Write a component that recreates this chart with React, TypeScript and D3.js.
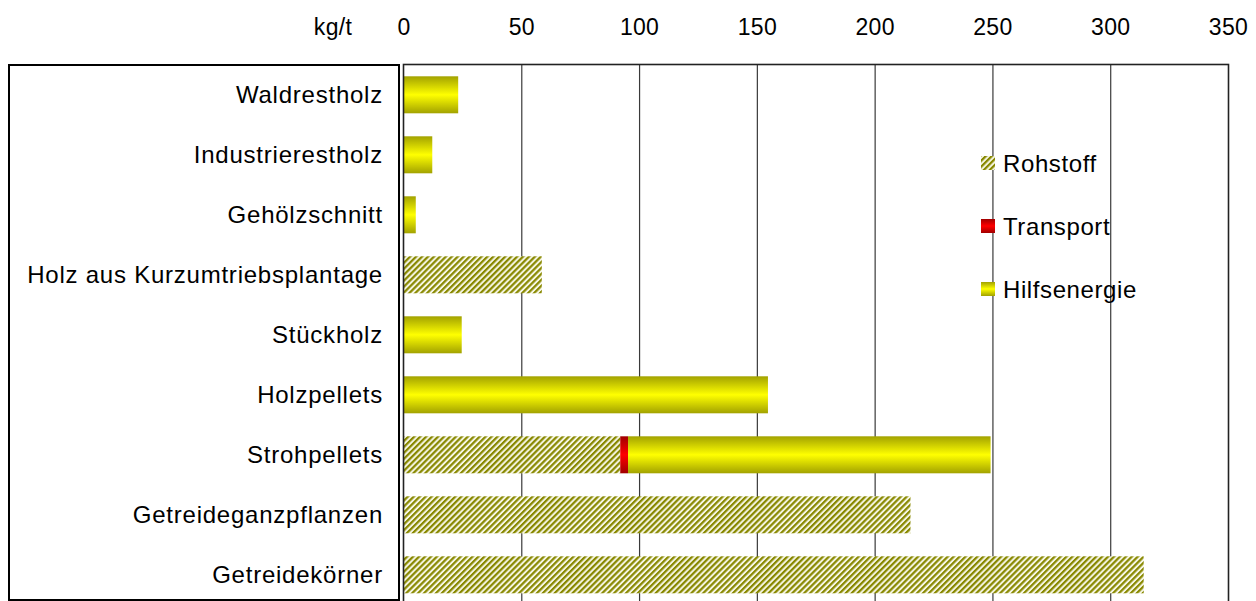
import React from "react";
import * as d3 from "d3";

// Categories listed top to bottom
const categories = [
  "Waldrestholz",
  "Industrierestholz",
  "Gehölzschnitt",
  "Holz aus Kurzumtriebsplantage",
  "Stückholz",
  "Holzpellets",
  "Strohpellets",
  "Getreideganzpflanzen",
  "Getreidekörner",
];

// Emission components in kg/t
const rohstoff = [0, 0, 0, 58.5, 0, 0, 91.8, 215, 314];
const transport = [0, 0, 0, 0, 0, 0, 3.3, 0, 0];
const hilfsenergie = [23, 12, 5, 0, 24.5, 154.5, 153.9, 0, 0];

const seriesNames = ["Rohstoff", "Transport", "Hilfsenergie"];
const tickValues = [0, 50, 100, 150, 200, 250, 300, 350];
const unitLabel = "kg/t";

const W = 1256;
const H = 601;
const FONT = "'Liberation Sans', Arial, sans-serif";

export default function App() {
  const x = d3.scaleLinear().domain([0, 350]).range([404, 1228.5]);
  const y = d3
    .scaleBand<string>()
    .domain(categories)
    .range([64.8, 604.8])
    .paddingInner(23 / 60)
    .paddingOuter(11.5 / 60);

  const rows = categories.map((c, i) => ({
    cat: c,
    Rohstoff: rohstoff[i],
    Transport: transport[i],
    Hilfsenergie: hilfsenergie[i],
  }));
  const stacked = d3.stack<any>().keys(seriesNames)(rows);
  const fills: Record<string, string> = {
    Rohstoff: "url(#hatch)",
    Transport: "url(#gradRed)",
    Hilfsenergie: "url(#gradYellow)",
  };

  const legendY = [163, 226, 289];

  return (
    <svg
      width={W}
      height={H}
      style={{ position: "absolute", left: 0, top: 0, background: "#fff" }}
      fontFamily={FONT}
    >
      <defs>
        <linearGradient id="gradYellow" x1="0" y1="0" x2="0" y2="1">
          <stop offset="0%" stopColor="#a2a200" />
          <stop offset="50%" stopColor="#ffff00" />
          <stop offset="100%" stopColor="#a2a200" />
        </linearGradient>
        <linearGradient id="gradRed" x1="0" y1="0" x2="0" y2="1">
          <stop offset="0%" stopColor="#a00000" />
          <stop offset="50%" stopColor="#ff0000" />
          <stop offset="100%" stopColor="#a00000" />
        </linearGradient>
        <pattern
          id="hatch"
          patternUnits="userSpaceOnUse"
          width="4.2"
          height="4.2"
          patternTransform="rotate(45)"
        >
          <rect width="4.2" height="4.2" fill="#f6f6e4" />
          <rect width="2.2" height="4.2" fill="#888800" />
        </pattern>
      </defs>

      {/* category label box */}
      <rect x={9} y={65} width={390} height={535} fill="none" stroke="#000" strokeWidth={2} />
      {categories.map((c) => (
        <text
          key={c}
          x={383}
          y={(y(c) as number) + y.bandwidth() / 2}
          textAnchor="end"
          dominantBaseline="central"
          fontSize={24}
          letterSpacing={0.77}
          fill="#000"
        >
          {c}
        </text>
      ))}

      {/* grid lines */}
      {tickValues.slice(1, -1).map((t) => (
        <line key={t} x1={x(t)} x2={x(t)} y1={64} y2={606} stroke="#3a3a3a" strokeWidth={1.2} />
      ))}

      {/* stacked bars */}
      {stacked.map((s) =>
        s.map((d, i) =>
          d[1] - d[0] > 0 ? (
            <rect
              key={s.key + i}
              x={x(d[0])}
              y={y(categories[i])}
              width={x(d[1]) - x(d[0])}
              height={y.bandwidth()}
              fill={fills[s.key]}
            />
          ) : null
        )
      )}

      {/* plot frame */}
      <rect x={403.5} y={64.5} width={825} height={545} fill="none" stroke="#222" strokeWidth={1.6} />

      {/* top axis labels */}
      {tickValues.map((t) => (
        <text key={t} x={x(t)} y={27} textAnchor="middle" dominantBaseline="central" fontSize={23} letterSpacing={0.3} fill="#000">
          {t}
        </text>
      ))}
      <text x={333} y={27} textAnchor="middle" dominantBaseline="central" fontSize={23} letterSpacing={0.3} fill="#000">
        {unitLabel}
      </text>

      {/* legend */}
      {seriesNames.map((n, i) => (
        <g key={n}>
          <rect x={981} y={legendY[i] - 7} width={14} height={14} fill={fills[n]} />
          <text x={1003} y={legendY[i]} dominantBaseline="central" fontSize={24} letterSpacing={0.6} fill="#000">
            {n}
          </text>
        </g>
      ))}
    </svg>
  );
}
